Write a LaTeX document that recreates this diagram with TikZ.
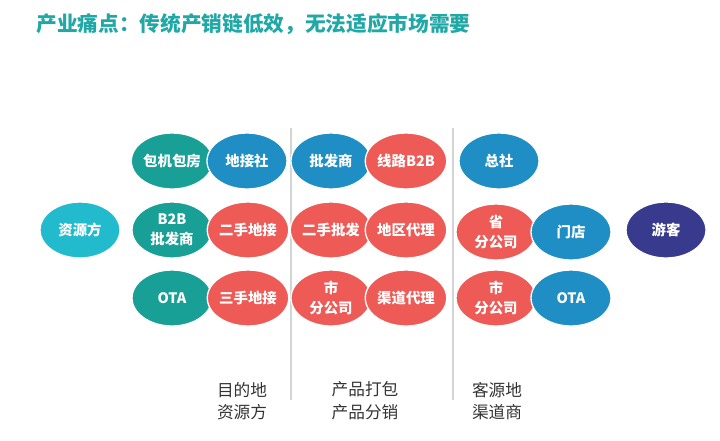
\documentclass[tikz,border=0pt]{standalone}
\usepackage{fontspec}
\setmainfont{Noto Sans CJK SC}
\usepackage{tikz}
\usetikzlibrary{shapes.geometric}
\definecolor{titlec}{RGB}{32,168,166}
\definecolor{tealc}{RGB}{24,160,150}
\definecolor{bluec}{RGB}{30,142,196}
\definecolor{redc}{RGB}{238,90,86}
\definecolor{cyanc}{RGB}{34,187,205}
\definecolor{purplec}{RGB}{56,58,142}
\definecolor{divc}{RGB}{212,212,212}
\tikzset{every picture/.style={line width=0.75pt}}
\tikzset{
  blob/.style={ellipse, draw=white, line width=1pt, minimum width=60pt, minimum height=42pt,
    inner sep=0pt, text=white, font=\fontsize{10.8}{15}\selectfont\bfseries, align=center},
  tealblob/.style={blob, fill=tealc},
  blueblob/.style={blob, fill=bluec},
  redblob/.style={blob, fill=redc},
  stage/.style={font=\fontsize{12.5}{17}\selectfont, text=black!80, align=center},
}

\begin{document}
\begin{tikzpicture}[x=0.75pt,y=0.75pt,yscale=-1,xscale=1]

\useasboundingbox (0,0) rectangle (720,440);

% Title
\node (title) [anchor=west, inner sep=0pt, text=titlec, font=\fontsize{15.5}{18}\selectfont\bfseries] at (36,24) {产业痛点：传统产销链低效，无法适应市场需要};

% Dividers
\draw [divc, line width=0.8pt] (291,128) -- (291,400);
\draw [divc, line width=0.8pt] (453,128) -- (453,400);

% Source
\node (ziyuan) [blob, fill=cyanc] at (80,230) {资源方};

% Column 1: destination resources
\node (baoji) [tealblob] at (172,161) {包机包房};
\node (dijie) [blueblob] at (247,161) {地接社};
\node (btob) [tealblob] at (172,230) {B2B\\批发商};
\node (ershou) [redblob] at (248,230) {二手地接};
\node (ota) [tealblob] at (172,298) {OTA};
\node (sanshou) [redblob] at (248,298) {三手地接};

% Column 2: packaging and distribution
\node (pifa) [blueblob] at (331,161) {批发商};
\node (xianlu) [redblob] at (406,161) {线路B2B};
\node (erpifa) [redblob] at (331,230) {二手批发};
\node (diqu) [redblob] at (406,230) {地区代理};
\node (shifen) [redblob] at (331,298) {市\\分公司};
\node (qudao) [redblob] at (406,298) {渠道代理};

% Column 3: source-market channels
\node (zongshe) [blueblob] at (499,161) {总社};
\node (shengfen) [redblob] at (496,232) {省\\分公司};
\node (mendian) [blueblob] at (571,232) {门店};
\node (shifenb) [redblob] at (496,298) {市\\分公司};
\node (otab) [blueblob] at (571,298) {OTA};

% Tourist
\node (youke) [blob, fill=purplec] at (666,230) {游客};

% Stage labels
\node (stagea) [stage] at (242,401) {目的地\\资源方};
\node (stageb) [stage] at (365,401) {产品打包\\产品分销};
\node (stagec) [stage] at (497,401) {客源地\\渠道商};

\end{tikzpicture}
\end{document}
